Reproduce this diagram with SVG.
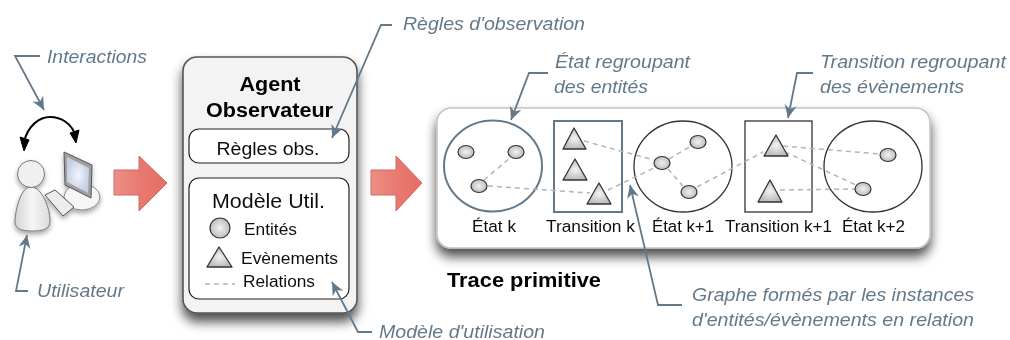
<svg xmlns="http://www.w3.org/2000/svg" width="1010" height="340" viewBox="0 0 1010 340">
<style>
text{font-family:"Liberation Sans",Arial,sans-serif;fill:#111}
.n{font-style:italic;fill:#64798a;font-size:18px}
.l{font-size:16px}
.b{font-weight:bold;font-size:20px;fill:#000}
.lead{fill:none;stroke:#64798a;stroke-width:1.8;marker-end:url(#open)}
.rel{fill:none;stroke:#b4b4b4;stroke-width:1.5;stroke-dasharray:5 4}
.ent{fill:url(#g);stroke:#333;stroke-width:1.2}
.evt{fill:url(#g);stroke:#333;stroke-width:1.3;stroke-linejoin:round}
.red{fill:url(#r);stroke:#cf6a62;stroke-width:1}
</style>
<defs>
<radialGradient id="g"><stop offset="0" stop-color="#f2f2f2"/><stop offset="1" stop-color="#bdbdbd"/></radialGradient>
<linearGradient id="r" x1="0" x2="1" y1="0" y2="0"><stop offset="0" stop-color="#ed8f86"/><stop offset="0.5" stop-color="#e9796f"/><stop offset="1" stop-color="#e56d65"/></linearGradient>
<linearGradient id="body" x1="0" x2="1" y1="0" y2="0"><stop offset="0" stop-color="#d4d4d4"/><stop offset="0.5" stop-color="#f6f6f6"/><stop offset="1" stop-color="#dadada"/></linearGradient>
<radialGradient id="scr"><stop offset="0" stop-color="#f2f6fc"/><stop offset="1" stop-color="#c3d0e4"/></radialGradient>
<filter id="s1" x="-20%" y="-20%" width="140%" height="140%"><feDropShadow dx="0" dy="8" stdDeviation="6" flood-color="#000" flood-opacity="0.7"/></filter>
<filter id="s2" x="-20%" y="-20%" width="140%" height="140%"><feDropShadow dx="0" dy="3" stdDeviation="2.500" flood-color="#000" flood-opacity="0.35"/></filter>
<filter id="soft" x="0" y="0" width="100%" height="100%" filterUnits="userSpaceOnUse" primitiveUnits="userSpaceOnUse"><feGaussianBlur stdDeviation="0.35"/></filter>
<marker id="open" markerUnits="userSpaceOnUse" markerWidth="18" markerHeight="18" refX="13" refY="7" orient="auto"><path d="M0 1 L13 7 L0 13 L4 7 Z" fill="#64798a"/></marker>
</defs>

<g filter="url(#soft)">
<g id="utilisateur">
<g filter="url(#s2)">
<ellipse cx="82" cy="197" rx="18" ry="13" fill="#f6f6f6" stroke="#888"/>
<path d="M64 152 L92 165 L91 198 L65 185 Z" fill="#a0a0a0" stroke="#555"/>
<path d="M67 157 L89 168 L88 193 L67 182 Z" fill="url(#scr)"/>
<path d="M45 195 L55 190 L74 207 L63 216 Z" fill="#ececec" stroke="#555"/>
<path d="M31 187 C20 187 15 212 15 222 C15 230 24 231 32 231 C42 231 50 230 50 221 C50 208 42 187 31 187 Z" fill="url(#body)" stroke="#777"/>
<circle cx="31" cy="174" r="13.500" fill="#f0f0f0" stroke="#777"/>
</g>
<path d="M24 142 C28 125 40 117 50 117 C62 117 71 124 75 134" fill="none" stroke="#000" stroke-width="2"/>
<path d="M20 137 L29 140 L24 151 Z M70 133 L79 130 L76 143 Z" fill="#000" stroke="#000" stroke-linejoin="round"/>
</g>

<path class="red" d="M114 170 H139 V156 L167 183 L139 211 V195 H114 Z"/>
<path class="red" d="M371 170 H396 V156 L422 183 L396 211 V195 H371 Z"/>

<g id="agent">
<rect x="183" y="57" width="174" height="256" rx="14" fill="#f3f3f3" stroke="#555" stroke-width="1.6" filter="url(#s1)"/>
<text class="b" x="270" y="91" text-anchor="middle" textLength="61" lengthAdjust="spacingAndGlyphs">Agent</text>
<text class="b" x="269.500" y="117" text-anchor="middle" textLength="127" lengthAdjust="spacingAndGlyphs">Observateur</text>
<g id="regles-obs">
<rect x="189" y="129" width="160" height="34" rx="10" fill="#fff" stroke="#222" stroke-width="1.2"/>
<text x="268" y="155" text-anchor="middle" font-size="18" textLength="103" lengthAdjust="spacingAndGlyphs">Règles obs.</text>
</g>
<g id="modele-util">
<rect x="189" y="178" width="160" height="121" rx="10" fill="#fff" stroke="#222" stroke-width="1.2"/>
<text x="212" y="208" font-size="20" textLength="113" lengthAdjust="spacingAndGlyphs">Modèle Util.</text>
<circle class="ent" cx="220" cy="228" r="10"/>
<text x="244" y="235" class="l" textLength="53" lengthAdjust="spacingAndGlyphs">Entités</text>
<path class="evt" d="M219 247 L232 267 L207 267 Z"/>
<text x="241" y="264" class="l" textLength="97" lengthAdjust="spacingAndGlyphs">Evènements</text>
<line class="rel" x1="205" y1="284" x2="235" y2="284"/>
<text x="243" y="287" class="l" textLength="72" lengthAdjust="spacingAndGlyphs">Relations</text>
</g>
</g>

<g id="trace">
<rect x="437" y="108" width="493" height="140" rx="14" fill="#fff" stroke="#c4c4c4" stroke-width="1.5" filter="url(#s1)"/>
<text class="b" x="447" y="287" textLength="154" lengthAdjust="spacingAndGlyphs">Trace primitive</text>
</g>
<g id="etat-k">
<ellipse cx="493" cy="166" rx="49" ry="45.500" fill="#fff" stroke="#64798a" stroke-width="2"/>
<text class="l" x="472" y="232" textLength="44" lengthAdjust="spacingAndGlyphs">État k</text>
</g>
<g id="transition-k">
<rect x="554" y="121" width="68" height="91" fill="#fff" stroke="#64798a" stroke-width="2"/>
<text class="l" x="546" y="232" textLength="89" lengthAdjust="spacingAndGlyphs">Transition k</text>
</g>
<g id="etat-k1">
<ellipse cx="683" cy="166.500" rx="49" ry="45.500" fill="#fff" stroke="#333" stroke-width="1.3"/>
<text class="l" x="652" y="232" textLength="62" lengthAdjust="spacingAndGlyphs">État k+1</text>
</g>
<g id="transition-k1">
<rect x="745" y="121" width="67" height="91" fill="#fff" stroke="#333" stroke-width="1.3"/>
<text class="l" x="725" y="232" textLength="107" lengthAdjust="spacingAndGlyphs">Transition k+1</text>
</g>
<g id="etat-k2">
<ellipse cx="873" cy="166.500" rx="49" ry="45.500" fill="#fff" stroke="#333" stroke-width="1.3"/>
<text class="l" x="842" y="232" textLength="63" lengthAdjust="spacingAndGlyphs">État k+2</text>
</g>

<g id="relations">
<path class="rel" d="M484 180 L511 157"/>
<path class="rel" d="M488 186 L590 193"/>
<path class="rel" d="M584 141 L654 160"/>
<path class="rel" d="M608 190 L654 168"/>
<path class="rel" d="M669 159 L691 146"/>
<path class="rel" d="M668 169 L683 186"/>
<path class="rel" d="M697 187 L763 152"/>
<path class="rel" d="M783 146 L880 154"/>
<path class="rel" d="M785 152 L856 185"/>
<path class="rel" d="M780 190 L855 189"/>
</g>

<g id="entites">
<ellipse class="ent" cx="466" cy="152" rx="8" ry="6.500"/>
<ellipse class="ent" cx="516" cy="152" rx="8" ry="6.500"/>
<ellipse class="ent" cx="479" cy="186" rx="8" ry="6.500"/>
<ellipse class="ent" cx="662" cy="163" rx="8" ry="6.500"/>
<ellipse class="ent" cx="698" cy="142" rx="8" ry="6.500"/>
<ellipse class="ent" cx="689" cy="192" rx="8" ry="6.500"/>
<ellipse class="ent" cx="888" cy="155" rx="8" ry="6.500"/>
<ellipse class="ent" cx="863" cy="189" rx="8" ry="6.500"/>
</g>
<g id="evenements">
<path class="evt" d="M574 128 L586 149 L563 149 Z"/>
<path class="evt" d="M575 159 L587 180 L563 180 Z"/>
<path class="evt" d="M599 183 L611 204 L587 204 Z"/>
<path class="evt" d="M776 135 L788 156 L764 156 Z"/>
<path class="evt" d="M770 180 L782 202 L758 202 Z"/>
</g>

<g id="connecteurs">
<path class="lead" d="M40 56 H15 L44 110"/>
<path class="lead" d="M28 291 H16 L27 235"/>
<path class="lead" d="M392 25 H381 L332 138"/>
<path class="lead" d="M372 332 H358 L332 282"/>
<path class="lead" d="M548 73 H529 L511 120"/>
<path class="lead" d="M813 73 H797 L788 118"/>
<path class="lead" d="M682 305 H658 L630 185"/>
</g>

<g id="annotations">
<text class="n" x="47" y="63" textLength="100" lengthAdjust="spacingAndGlyphs">Interactions</text>
<text class="n" x="37" y="297" textLength="87" lengthAdjust="spacingAndGlyphs">Utilisateur</text>
<text class="n" x="403" y="30" textLength="182" lengthAdjust="spacingAndGlyphs">Règles d'observation</text>
<text class="n" x="379" y="338" textLength="166" lengthAdjust="spacingAndGlyphs">Modèle d'utilisation</text>
<text class="n" x="555" y="68" textLength="135" lengthAdjust="spacingAndGlyphs">État regroupant</text>
<text class="n" x="554" y="93" textLength="94" lengthAdjust="spacingAndGlyphs">des entités</text>
<text class="n" x="820" y="68" textLength="186" lengthAdjust="spacingAndGlyphs">Transition regroupant</text>
<text class="n" x="820" y="93" textLength="144" lengthAdjust="spacingAndGlyphs">des évènements</text>
<text class="n" x="692" y="301" textLength="282" lengthAdjust="spacingAndGlyphs">Graphe formés par les instances</text>
<text class="n" x="692" y="326" textLength="282" lengthAdjust="spacingAndGlyphs">d'entités/évènements en relation</text>
</g>
</g>
</svg>
